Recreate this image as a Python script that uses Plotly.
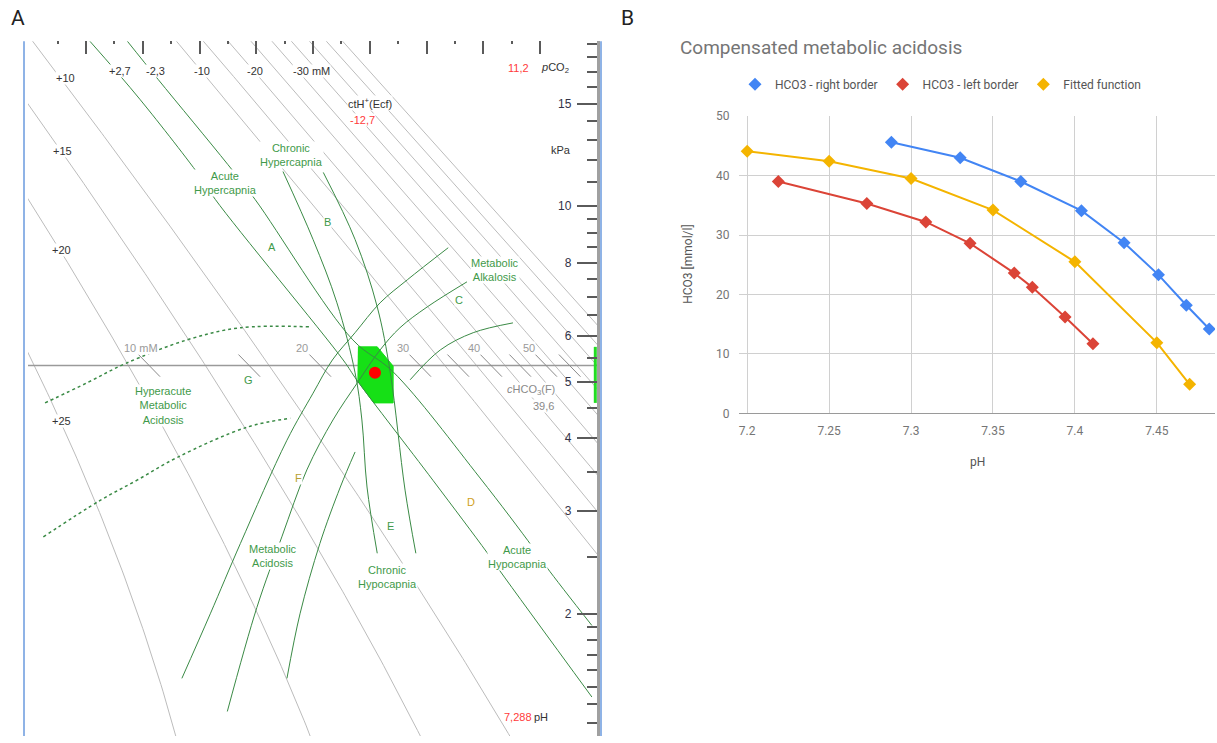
import numpy as np
import plotly.graph_objects as go

W, H = 1217, 743
# the capture compresses the page slightly in height; map reference pixel rows to paper
SC, OFF = 0.979, 7.8

def yp(y_ref):
    return 1 - ((y_ref - OFF) / SC) / H

# ---------------- Panel A data (pH vs pCO2 kPa) ----------------
cth_values = [25, 20, 15, 10, -10, -15, -20, -25, -30, -35, -40, -45, -50]   # ctH+(Ecf) iso-lines, mM
hco3_scale = [10, 15, 20, 25, 30, 35, 40, 45, 50, 55]                           # cHCO3 scale marks, mM
pco2_ref = 5.33

acute_lo_ph = [6.907, 6.995, 7.105, 7.128, 7.353, 7.378, 7.511, 7.606, 7.629, 7.791]
acute_lo_pco2 = [19.19, 15.26, 11.11, 10.27, 5.45, 5.02, 3.39, 2.55, 2.37, 1.44]
acute_hi_ph = [6.973, 7.027, 7.150, 7.198, 7.370, 7.441, 7.594, 7.687, 7.712, 7.791]
acute_hi_pco2 = [19.19, 16.51, 11.79, 10.27, 5.90, 5.20, 3.42, 2.60, 2.40, 1.91]
chronic1_ph = [7.247, 7.300, 7.342, 7.374, 7.386, 7.395, 7.413]
chronic1_pco2 = [11.47, 8.77, 6.83, 5.18, 4.30, 3.30, 2.54]
chronic2_ph = [7.318, 7.374, 7.413, 7.436, 7.462, 7.481]
chronic2_pco2 = [11.43, 8.77, 6.72, 5.18, 3.26, 2.54]
metab_up_ph = [7.069, 7.119, 7.172, 7.254, 7.300, 7.334, 7.374, 7.418, 7.466, 7.538]
metab_up_pco2 = [1.55, 2.00, 2.64, 3.97, 4.78, 5.45, 6.07, 6.83, 7.48, 8.49]
metab_lo_ph = [7.149, 7.201, 7.245, 7.289, 7.335, 7.378, 7.418, 7.453, 7.501, 7.571]
metab_lo_pco2 = [1.36, 2.05, 2.71, 3.53, 4.30, 4.98, 5.67, 6.19, 6.72, 7.42]
chr_acid_ph = [7.254, 7.277, 7.312, 7.348, 7.374]
chr_acid_pco2 = [1.55, 2.00, 2.64, 3.30, 3.79]
chr_alk_ph = [7.471, 7.524, 7.582, 7.652]
chr_alk_pco2 = [5.04, 5.67, 6.07, 6.31]
dotted_up_ph = [6.828, 6.902, 6.969, 7.078, 7.172, 7.295]
dotted_up_pco2 = [4.60, 4.98, 5.37, 5.90, 6.19, 6.21]
dotted_lo_ph = [6.825, 6.925, 6.990, 7.061, 7.184, 7.260]
dotted_lo_pco2 = [2.71, 3.13, 3.39, 3.71, 4.18, 4.33]
normal_ph = [7.379, 7.413, 7.441, 7.441, 7.407, 7.378]
normal_pco2 = [5.74, 5.74, 5.32, 4.60, 4.60, 5.02]
patient_ph = [7.409]
patient_pco2 = [5.18]
pco2_bar_ph = [7.797, 7.797]
pco2_bar = [4.60, 5.74]

ph_range = [6.798, 7.8]
logp_top = 1.283
logp_bottom = 1.35534 - (H * SC + OFF) / 581.7
pco2_range_log = [logp_bottom, logp_top]
ph_ticks = [6.9, 7.0, 7.1, 7.2, 7.3, 7.4, 7.5, 7.6, 7.7]
ph_minor = [6.85, 6.95, 7.05, 7.15, 7.25, 7.35, 7.45, 7.55, 7.65, 7.75]
pco2_major = [2, 3, 4, 5, 6, 8, 10, 15]
pco2_minor = [1.2, 1.3, 1.4, 1.5, 1.6, 1.7, 1.8, 1.9, 2.5, 3.5, 4.5, 5.5, 6.5, 7, 7.5,
              8.5, 9, 9.5, 11, 12, 13, 14, 16, 17, 18, 19]

# ---------------- Panel B data ----------------
ph_right = [7.288, 7.330, 7.367, 7.404, 7.430, 7.451, 7.468, 7.482]
hco3_right = [45.6, 43.0, 39.0, 34.1, 28.7, 23.3, 18.2, 14.2]
ph_left = [7.219, 7.273, 7.309, 7.336, 7.363, 7.374, 7.394, 7.411]
hco3_left = [39.0, 35.3, 32.2, 28.6, 23.6, 21.2, 16.2, 11.7]
ph_fit = [7.20, 7.25, 7.30, 7.35, 7.40, 7.45, 7.47]
hco3_fit = [44.1, 42.4, 39.5, 34.2, 25.5, 11.9, 4.9]
b_xticks = [7.2, 7.25, 7.3, 7.35, 7.4, 7.45]
b_xlabels = ["7.2", "7.25", "7.3", "7.35", "7.4", "7.45"]
b_yticks = [0, 10, 20, 30, 40, 50]

FA = "Liberation Sans, Arial, sans-serif"
FR = "Roboto, sans-serif"
GREEN = "#3a8a45"
GLAB = "#3f9a4a"

fig = go.Figure()

# iso ctH+(Ecf) lines (Van Slyke + Henderson-Hasselbalch definition of the nomogram grid)
ph_grid = np.linspace(6.78, 7.82, 261)
gx, gy = [], []
for ct in cth_values:
    hco3 = 24.4 - ct / 0.93 - 14.83 * (ph_grid - 7.4)
    keep = hco3 > 0.3
    p = hco3[keep] / (0.23 * 10 ** (ph_grid[keep] - 6.1))
    gx += list(ph_grid[keep]) + [None]
    gy += list(p) + [None]
fig.add_trace(go.Scatter(x=gx, y=gy, mode="lines", line=dict(color="#bcbcbc", width=1),
                         hoverinfo="skip", showlegend=False))

fig.add_trace(go.Scatter(x=ph_range, y=[pco2_ref, pco2_ref], mode="lines",
                         line=dict(color="#9a9a9a", width=1.5), showlegend=False))

dx, dy = [], []
for h in hco3_scale:
    ph0 = 6.1 + np.log10(h / (0.23 * pco2_ref))
    dx += [ph0 - 0.019, ph0 + 0.019, None]
    dy += [pco2_ref * 10 ** 0.019, pco2_ref * 10 ** -0.019, None]
fig.add_trace(go.Scatter(x=dx, y=dy, mode="lines", line=dict(color="#8a8a8a", width=1),
                         showlegend=False))

fig.add_trace(go.Scatter(x=normal_ph, y=normal_pco2, mode="lines", fill="toself",
                         fillcolor="#16e016", line=dict(color="#16e016", width=1), showlegend=False))

for xs, ys in [(acute_lo_ph, acute_lo_pco2), (acute_hi_ph, acute_hi_pco2),
               (chronic1_ph, chronic1_pco2), (chronic2_ph, chronic2_pco2),
               (metab_up_ph, metab_up_pco2), (metab_lo_ph, metab_lo_pco2),
               (chr_acid_ph, chr_acid_pco2), (chr_alk_ph, chr_alk_pco2)]:
    fig.add_trace(go.Scatter(x=xs, y=ys, mode="lines", line=dict(color=GREEN, width=1, shape="spline"),
                             showlegend=False))
for xs, ys in [(dotted_up_ph, dotted_up_pco2), (dotted_lo_ph, dotted_lo_pco2)]:
    fig.add_trace(go.Scatter(x=xs, y=ys, mode="lines", line=dict(color=GREEN, width=1.5, dash="dot", shape="spline"),
                             showlegend=False))

fig.add_trace(go.Scatter(x=patient_ph, y=patient_pco2, mode="markers",
                         marker=dict(color="#ff0000", size=12), showlegend=False))
fig.add_trace(go.Scatter(x=pco2_bar_ph, y=pco2_bar, mode="lines",
                         line=dict(color="#22dd22", width=3), showlegend=False))

# ---------------- Panel B traces ----------------
series = [("HCO3 - right border", ph_right, hco3_right, "#4285f4"),
          ("HCO3 - left border", ph_left, hco3_left, "#db4437"),
          ("Fitted function", ph_fit, hco3_fit, "#f4b400")]
for name, xs, ys, c in series:
    fig.add_trace(go.Scatter(x=xs, y=ys, mode="lines", line=dict(color=c, width=2),
                             xaxis="x2", yaxis="y3", showlegend=False, hoverinfo="skip"))
for name, xs, ys, c in series:
    fig.add_trace(go.Scatter(x=xs, y=ys, mode="markers", name=name,
                             marker=dict(color=c, size=10, symbol="diamond"),
                             xaxis="x2", yaxis="y3"))

ydomA = [0, yp(42)]
tickcol = "#5a5a5a"
fig.update_layout(
    width=W, height=H, margin=dict(l=0, r=0, t=0, b=0),
    paper_bgcolor="white", plot_bgcolor="white",
    xaxis=dict(domain=[28 / W, 597 / W], range=ph_range, side="top", anchor="y",
               showgrid=False, zeroline=False, showline=False,
               tickvals=ph_ticks, ticks="inside", ticklen=13, tickwidth=2, tickcolor=tickcol,
               showticklabels=False,
               minor=dict(tickvals=ph_minor, ticks="inside", ticklen=3, tickwidth=2, tickcolor=tickcol)),
    yaxis=dict(domain=ydomA, type="log", range=pco2_range_log, side="right", anchor="x",
               showgrid=False, zeroline=False, showline=True, linecolor="#a0a0a0", linewidth=3,
               tickvals=pco2_major, ticktext=[str(v) for v in pco2_major],
               ticks="inside", ticklen=20, tickwidth=2, tickcolor=tickcol,
               ticklabelposition="inside", ticklabelstandoff=5,
               tickfont=dict(family=FA, size=12, color="#333348"),
               minor=dict(tickvals=pco2_minor, ticks="inside", ticklen=10, tickwidth=2, tickcolor=tickcol)),
    yaxis2=dict(type="log", range=pco2_range_log, side="left", anchor="x", overlaying="y",
                showgrid=False, zeroline=False, showline=True, linecolor="#a0a0a0", linewidth=3,
                tickvals=pco2_major, ticks="inside", ticklen=20, tickwidth=2, tickcolor=tickcol,
                showticklabels=False,
                minor=dict(tickvals=pco2_minor, ticks="inside", ticklen=10, tickwidth=2, tickcolor=tickcol)),
    xaxis2=dict(domain=[739 / W, 1215 / W], range=[7.195, 7.4855], anchor="y3",
                tickvals=b_xticks, ticktext=b_xlabels, showgrid=True, gridcolor="#d0d0d0",
                zeroline=False, showline=False, ticks="outside", ticklen=6, tickcolor="rgba(0,0,0,0)",
                tickfont=dict(family=FR, size=12, color="#757575")),
    yaxis3=dict(domain=[yp(413.3), yp(116.7)], range=[0, 50], anchor="x2",
                tickvals=b_yticks, showgrid=True, gridcolor="#d0d0d0",
                zeroline=True, zerolinecolor="#9a9a9a", zerolinewidth=1, showline=False,
                ticks="outside", ticklen=6, tickcolor="rgba(0,0,0,0)",
                tickfont=dict(family=FR, size=12, color="#757575")),
    legend=dict(orientation="h", x=735 / W, y=yp(85), xanchor="left", yanchor="middle",
                font=dict(family=FR, size=12, color="#555555"), itemwidth=30,
                bgcolor="rgba(0,0,0,0)"),
)

for xp in (24, 601):
    fig.add_shape(type="line", xref="paper", yref="paper", x0=xp / W, x1=xp / W,
                  y0=0, y1=ydomA[1], line=dict(color="#8fb3e6", width=2))

ann = []
def lab(x, y, text, color="#333333", size=11, bg="white", family=FA, **kw):
    d = dict(x=x / W, y=yp(y), xref="paper", yref="paper", text=text, showarrow=False,
             font=dict(family=family, size=size, color=color), borderpad=0,
             xanchor="center", yanchor="middle")
    if bg:
        d["bgcolor"] = bg
    d.update(kw)
    ann.append(d)

lab(18, 19, "A", color="#222222", size=21, bg=None, family=FR)
lab(627, 19, "B", color="#222222", size=21, bg=None, family=FR)
for x, y, t in [(120, 72, "+2,7"), (155, 72, "-2,3"), (202, 72, "-10"), (255, 72, "-20"),
                (311, 72, "-30 mM"), (65, 79, "+10"), (62, 151, "+15"), (61, 250, "+20"), (61, 421, "+25")]:
    lab(x, y, t)
lab(370, 104, "ctH<sup>+</sup>(Ecf)")
lab(362, 121, "-12,7", color="#ff3b3b")
lab(518, 69, "11,2", color="#ff3b3b")
lab(555, 69, "<i>p</i>CO<sub>2</sub>")
lab(561, 150, "kPa")
lab(531, 390, "<i>c</i>HCO<sub>3</sub>(F)", color="#8a8a8a")
lab(543, 406, "39,6", color="#8a8a8a")
lab(518, 716, "7,288", color="#ff3b3b")
lab(541, 716, "pH")
for x, t in [(141, "10 mM"), (302, "20"), (403, "30"), (474, "40"), (529, "50")]:
    lab(x, 348, t, color="#9a9a9a")
for x, y, t in [(225, 183, "Acute<br>Hypercapnia"), (291, 155, "Chronic<br>Hypercapnia"),
                (272, 247, "A"), (327, 222, "B"), (495, 270, "Metabolic<br>Alkalosis"),
                (459, 300, "C"), (248, 380, "G"), (163, 405, "Hyperacute<br>Metabolic<br>Acidosis"),
                (273, 556, "Metabolic<br>Acidosis"), (390, 526, "E"),
                (387, 577, "Chronic<br>Hypocapnia"), (517, 557, "Acute<br>Hypocapnia")]:
    lab(x, y, t, color=GLAB)
lab(298, 478, "F", color="#b8a030")
lab(471, 502, "D", color="#d0a020")

lab(679, 48, "Compensated metabolic acidosis", color="#757575", size=19, bg=None, family=FR, xanchor="left")
lab(688, 265, "HCO3 [mmol/l]", color="#555555", size=12, bg=None, family=FR, textangle=-90)
lab(977, 462, "pH", color="#555555", size=12, bg=None, family=FR)

fig.update_layout(annotations=ann)
fig.write_html("out.html")
